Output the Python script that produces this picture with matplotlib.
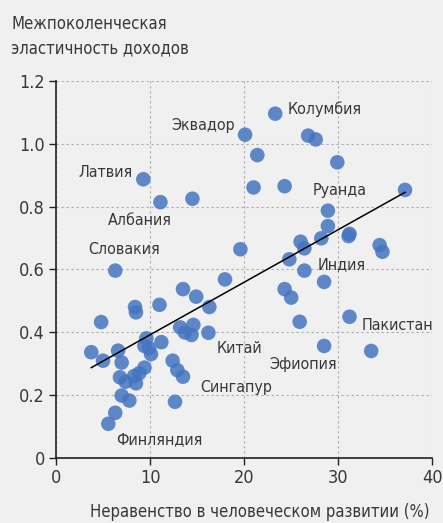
import numpy as np
import matplotlib
matplotlib.use("Agg")
import matplotlib.pyplot as plt

plt.rcParams['font.family'] = ['DejaVu Sans']
plt.rcParams['font.stretch'] = 'condensed'

# inequality in human development (%), intergenerational income elasticity
inequality = [23.3, 20.1, 26.8, 27.6, 21.4, 29.9, 9.28, 21.0, 24.3, 37.1,
              11.1, 14.5, 28.9, 28.9, 28.2, 31.2, 31.1, 26.0, 26.4, 34.4,
              34.7, 19.6, 24.8, 26.4, 6.3, 28.5, 17.96, 13.5, 24.3, 25.0,
              14.9, 8.4, 8.5, 11.0, 16.3, 4.8, 25.9, 31.2, 13.2, 14.6,
              13.7, 14.4, 16.2, 9.6, 11.2, 3.75, 6.6, 5.0, 6.98, 9.4,
              9.9, 10.1, 9.4, 12.4, 12.9, 13.5, 6.8, 7.4, 8.3, 8.85,
              8.5, 6.98, 7.8, 12.65, 6.3, 5.56, 28.5, 33.5]
elasticity = [1.096, 1.029, 1.026, 1.014, 0.964, 0.941, 0.887, 0.861, 0.865, 0.853,
              0.814, 0.825, 0.787, 0.738, 0.699, 0.713, 0.706, 0.688, 0.667, 0.677,
              0.656, 0.664, 0.632, 0.596, 0.596, 0.560, 0.568, 0.537, 0.537, 0.510,
              0.513, 0.480, 0.463, 0.487, 0.480, 0.432, 0.433, 0.449, 0.415, 0.423,
              0.399, 0.391, 0.398, 0.380, 0.368, 0.336, 0.341, 0.309, 0.303, 0.356,
              0.349, 0.330, 0.287, 0.309, 0.279, 0.258, 0.256, 0.242, 0.260, 0.269,
              0.237, 0.198, 0.182, 0.178, 0.143, 0.108, 0.356, 0.340]

# trend line
trend_slope = 0.01675
trend_intercept = 0.224

countries = ["Колумбия", "Эквадор", "Латвия", "Албания", "Словакия", "Руанда",
             "Индия", "Пакистан", "Китай", "Эфиопия", "Сингапур", "Финляндия"]
# label anchor (x, y, ha)
label_pos = [(24.65, 1.11, "left"), (19.0, 1.057, "right"), (8.15, 0.91, "right"),
             (8.87, 0.755, "center"), (7.23, 0.662, "center"), (30.2, 0.85, "center"),
             (30.4, 0.616, "center"), (36.3, 0.42, "center"), (19.5, 0.349, "center"),
             (26.3, 0.298, "center"), (19.2, 0.224, "center"), (11.0, 0.056, "center")]

bg = "#f0f0f0"
txt = "#383838"

fig = plt.figure(figsize=(4.43, 5.23), dpi=100, facecolor=bg)
ax = fig.add_axes([0.1264, 0.1249, 0.8495, 0.7202], facecolor=bg)

ax.scatter(inequality, elasticity, s=110, color="#4575c2", alpha=0.85,
           edgecolors="none", zorder=3)

xs = np.array([min(inequality), max(inequality)])
ax.plot(xs, trend_intercept + trend_slope * xs, color="black", lw=1.1, zorder=4)

for name, (lx, ly, ha) in zip(countries, label_pos):
    ax.text(lx, ly, name, ha=ha, va="center", fontsize=11.5, color=txt, zorder=5)

ax.set_xlim(0, 40)
ax.set_ylim(0, 1.2)
ax.set_xticks([0, 10, 20, 30, 40])
ax.set_yticks([0, 0.2, 0.4, 0.6, 0.8, 1.0, 1.2])
ax.set_yticklabels(["0", "0.2", "0.4", "0.6", "0.8", "1.0", "1.2"])
ax.grid(True, color="#aaaaaa", linestyle=(0, (2, 2.5)), linewidth=0.8, zorder=0)
ax.set_axisbelow(True)

for s in ["top", "right"]:
    ax.spines[s].set_visible(False)
for s in ["left", "bottom"]:
    ax.spines[s].set_color("#222222")
    ax.spines[s].set_linewidth(1.2)
ax.tick_params(direction="out", length=5, width=1.0, colors="#222222",
               labelsize=13, labelcolor=txt, pad=3)

fig.text(0.587, 0.021, "Неравенство в человеческом развитии (%)", fontsize=12,
         color=txt, ha="center", va="center")
fig.text(0.025, 0.972, "Межпоколенческая\nэластичность доходов", fontsize=12,
         color=txt, ha="left", va="top", linespacing=1.5)

fig.savefig("out.png", dpi=100, facecolor=bg)
